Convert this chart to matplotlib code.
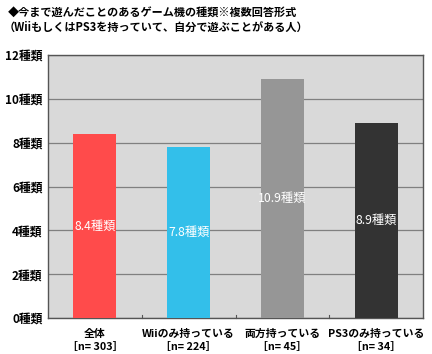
import matplotlib.pyplot as plt

plt.rcParams['font.family'] = ['Noto Sans CJK JP', 'DejaVu Sans']

# data
categories = ["全体\n［n= 303］", "Wiiのみ持っている\n［n= 224］", "両方持っている\n［n= 45］", "PS3のみ持っている\n［n= 34］"]
values = [8.4, 7.8, 10.9, 8.9]
colors = ["#ff4b4b", "#33bfea", "#969696", "#333333"]
yticks = [0, 2, 4, 6, 8, 10, 12]

fig = plt.figure(figsize=(4.32, 3.54), dpi=100)
ax = fig.add_axes([48/432, 36/354, 375/432, 263/354])
ax.set_facecolor("#d9d9d9")

x = range(len(values))
ax.bar(x, values, width=0.46, color=colors, zorder=3)

for i, v in enumerate(values):
    ax.text(i, v / 2, f"{v}種類", ha="center", va="center", color="white",
            fontsize=8.8, zorder=4)

ax.set_ylim(0, 12)
ax.set_xlim(-0.5, 3.5)
ax.set_yticks(yticks)
ax.set_yticklabels([f"{t}種類" for t in yticks], fontsize=8.5, fontweight="bold")
ax.yaxis.grid(True, color="#808080", linewidth=0.9, zorder=1)
ax.tick_params(axis="y", length=0, pad=4)

ax.set_xticks([i for i in x])
ax.set_xticklabels(categories, fontsize=7.8, fontweight="bold", linespacing=1.3)
ax.tick_params(axis="x", length=0, pad=8)
for b in [0.5, 1.5, 2.5]:
    ax.plot([b, b], [0, 0.12], color="#555555", linewidth=0.8, zorder=2, clip_on=False)

for s in ax.spines.values():
    s.set_color("#555555")
    s.set_linewidth(1)

fig.text(8/432, 1 - 13/354, "◆今まで遊んだことのあるゲーム機の種類※複数回答形式",
         fontsize=8, fontweight="bold", va="center")
fig.text(4/432, 1 - 27/354, "（WiiもしくはPS3を持っていて、自分で遊ぶことがある人）",
         fontsize=8, fontweight="bold", va="center")

fig.savefig("out.png", dpi=100)
